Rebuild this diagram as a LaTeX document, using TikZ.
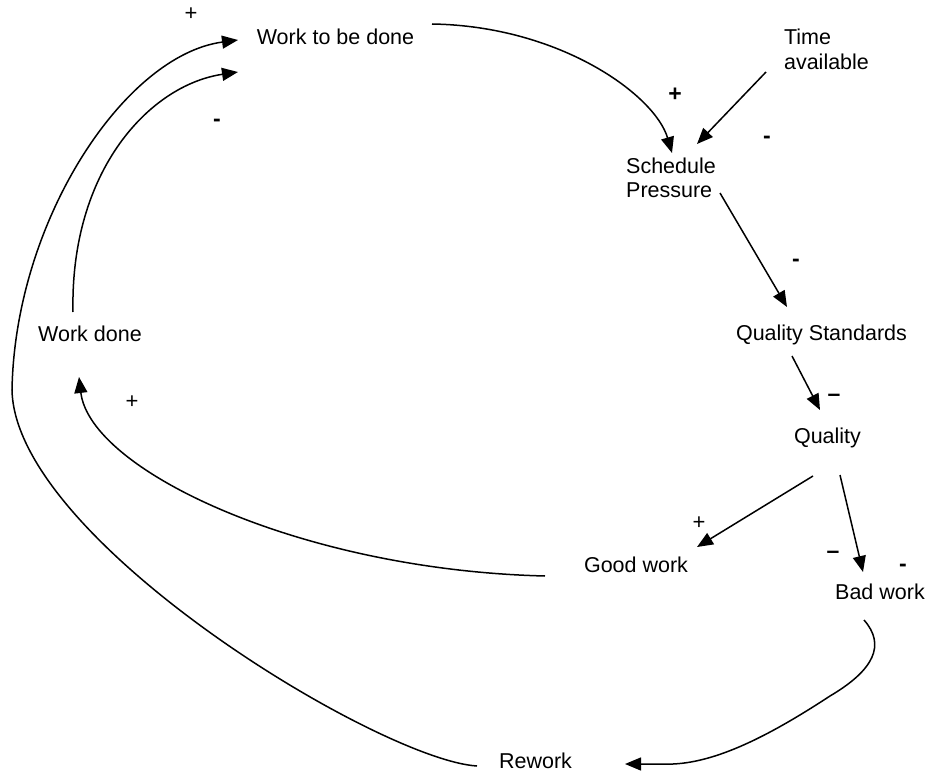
\documentclass[tikz,border=0pt]{standalone}
\usepackage{fontspec}
\setmainfont{Liberation Sans}
\usetikzlibrary{arrows.meta}
\begin{document}
\begin{tikzpicture}[x=1pt,y=-1pt,
  lbl/.style={inner sep=0pt, font=\fontsize{21.5}{24.5}\selectfont, align=left},
  sgn/.style={inner sep=0pt, font=\fontsize{22}{24}\selectfont},
  sgnb/.style={inner sep=0pt, font=\fontsize{23}{24}\selectfont\bfseries},
  link/.style={line width=1.5pt, -{Triangle[length=16pt,width=13pt]}}]
\useasboundingbox (0,0) rectangle (927,776);

% variables
\node[lbl] (wtbd)   at (335.5,37)    {Work to be done};
\node[lbl] (time)   at (826.5,49.5)  {Time\\available};
\node[lbl] (sched)  at (671,178)     {Schedule\\Pressure};
\node[lbl] (qstd)   at (821.5,334.5) {Quality Standards};
\node[lbl] (qual)   at (827.5,437.5) {Quality};
\node[lbl] (good)   at (636,565.3)   {Good work};
\node[lbl] (bad)    at (880,592.3)   {Bad work};
\node[lbl] (wdone)  at (90,334.3)    {Work done};
\node[lbl] (rework) at (535.5,761.3) {Rework};

% polarity signs
\node[sgn]  (p1) at (191,14)  {+};
\node[sgnb] (m1) at (217,123) {-};
\node[sgnb] (p2) at (675,95)  {+};
\node[sgnb] (m2) at (767,140) {-};
\node[sgnb] (m3) at (796,263) {-};
\node[sgnb] (m4) at (834,398) {\textendash};
\node[sgn]  (p3) at (699,523) {+};
\node[sgnb] (m5) at (833,555) {\textendash};
\node[sgnb] (m6) at (903,568) {-};
\node[sgn]  (p4) at (132,402) {+};

% causal links
\draw[link] ([shift={(96.5,-13)}]wtbd.center)
  .. controls (560,26) and (655,95) .. ([shift={(1,-25)}]sched.center);
\draw[link] ([shift={(-60.5,22.5)}]time.center) -- ([shift={(26,-34)}]sched.center);
\draw[link] ([shift={(49,15)}]sched.center) -- ([shift={(-34.5,-27.5)}]qstd.center);
\draw[link] ([shift={(-29.5,21.5)}]qstd.center) -- ([shift={(-7.5,-27.5)}]qual.center);
\draw[link] ([shift={(-14.5,38.5)}]qual.center) -- ([shift={(61,-18.3)}]good.center);
\draw[link] ([shift={(12.5,37.5)}]qual.center) -- ([shift={(-17,-20.3)}]bad.center);
\draw[link] ([shift={(-16,27.7)}]bad.center)
  .. controls (886,645) and (874,670) .. (830,696)
  .. controls (775,732) and (720,762) .. (673,764)
  -- ([shift={(89.5,2.7)}]rework.center);
\draw[link] ([shift={(-91,10.7)}]good.center)
  .. controls (300,570) and (90,470) .. ([shift={(-11,42.7)}]wdone.center);
\draw[link] ([shift={(-17,-22.3)}]wdone.center)
  .. controls (70,170) and (150,85) .. ([shift={(-97.5,35)}]wtbd.center);
\draw[link] ([shift={(-58.5,4.7)}]rework.center)
  .. controls (380,760) and (15,540) .. (12,390)
  .. controls (15,220) and (125,55) .. ([shift={(-97.5,3)}]wtbd.center);
\end{tikzpicture}
\end{document}
